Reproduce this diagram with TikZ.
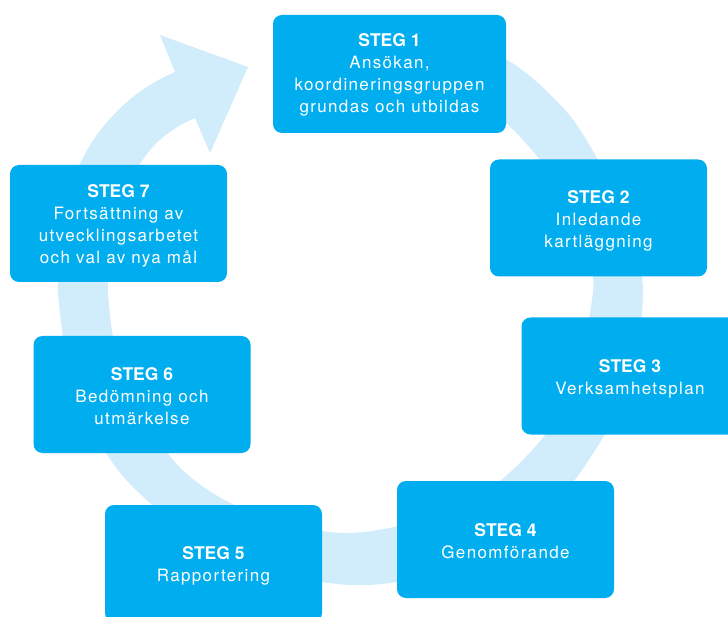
\documentclass[tikz,border=0pt]{standalone}
\usepackage{fontspec}
\newfontfamily\regfont[LetterSpace=8]{TeX Gyre Heros}
\newfontfamily\hdfont{TeX Gyre Heros}
\definecolor{boxblue}{RGB}{0,174,239}
\definecolor{ringblue}{RGB}{209,236,251}
\tikzset{
  stepbox/.style={fill=boxblue, rounded corners=9pt, minimum width=217pt, minimum height=117pt,
    inner sep=0pt},
  steptext/.style={inner sep=0pt, align=center, text=white, font=\regfont\fontsize{17}{22}\selectfont},
}
\newcommand{\hd}[1]{{\hdfont\bfseries\fontsize{17.5}{22}\selectfont #1}}
\begin{document}
\begin{tikzpicture}[x=1pt,y=-1pt]
\useasboundingbox (0,0) rectangle (728,617);
\clip (0,0) rectangle (728,617);
\fill[white] (0,0) rectangle (728,617);
% ring arrow
\begin{scope}[shift={(351,292)}]
\fill[ringblue] plot[smooth] coordinates {(-75:279) (-55:280) (-40:281) (-28:280) (-14:285) (0:292) (20:293) (45:293) (70:293) (90:293) (115:293) (140:293) (160:293) (180:293) (195:296) (-271,-128)}
  .. controls (-252,-169) and (-217.4,-202.5) .. (-176,-220)
  -- (-191,-257) -- (-103,-225) -- (-141,-139) -- (-156,-174)
  .. controls (-179,-164.25) and (-198.1,-149.4) .. (-211,-128)
  -- plot[smooth] coordinates {(-211,-128) (195:245) (180:243) (160:243) (135:245) (115:242) (90:241) (60:242) (30:242) (0:242) (-15:236) (-35:230.5) (-55:230) (-75:229)} -- cycle;
\end{scope}
% boxes
\node[stepbox, minimum width=233pt, minimum height=118pt] (s1) at (389.5,74) {};
\node[stepbox] (s2) at (598.5,218) {};
\node[stepbox] (s3) at (630,376) {};
\node[stepbox] (s4) at (505.5,539.5) {};
\node[stepbox] (s5) at (213.5,563.5) {};
\node[stepbox] (s6) at (142,394.5) {};
\node[stepbox] (s7) at (118.5,223.5) {};
% texts
\node[steptext] (t1) at ([yshift=-1pt]s1.center) {\hd{STEG 1}\\Ansökan,\\koordineringsgruppen\\grundas och utbildas};
\node[steptext] (t2) at ([yshift=-2.5pt]s2.center) {\hd{STEG 2}\\Inledande\\kartläggning};
\node[steptext] (t3) at ([yshift=-2.5pt]s3.center) {\hd{STEG 3}\\Verksamhetsplan};
\node[steptext] (t4) at ([yshift=-2pt]s4.center) {\hd{STEG 4}\\Genomförande};
\node[steptext] (t5) at ([yshift=-2pt]s5.center) {\hd{STEG 5}\\Rapportering};
\node[steptext] (t6) at ([yshift=-1.5pt]s6.center) {\hd{STEG 6}\\Bedömning och\\utmärkelse};
\node[steptext] (t7) at ([yshift=-2pt]s7.center) {\hd{STEG 7}\\Fortsättning av\\utvecklingsarbetet\\och val av nya mål};
\end{tikzpicture}
\end{document}
